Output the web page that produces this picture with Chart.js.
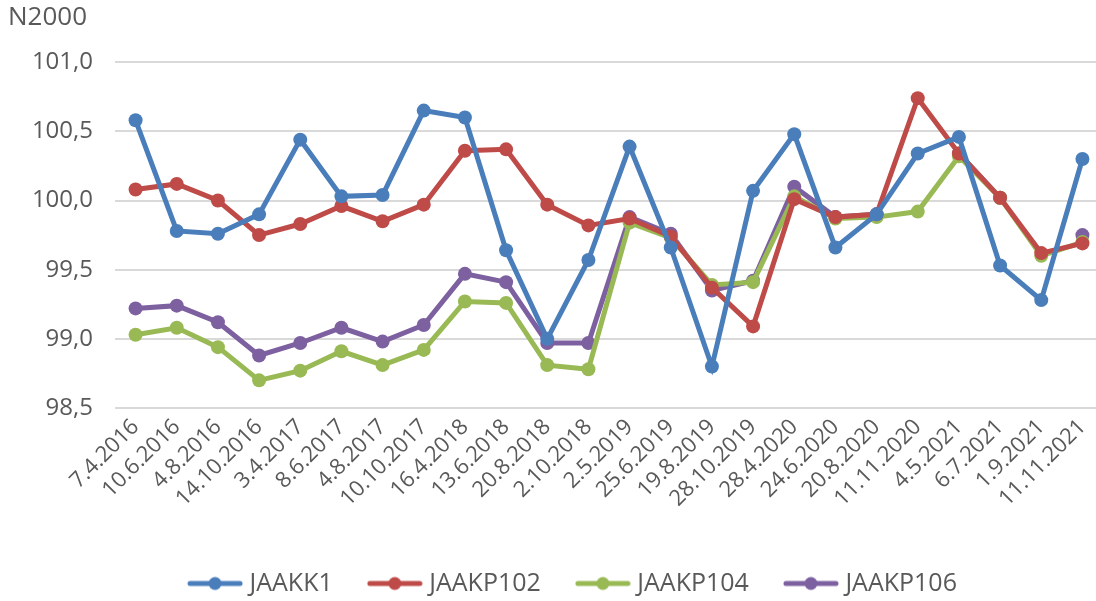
<!DOCTYPE html>
<html>
<head>
<meta charset="utf-8">
<script src="https://cdn.jsdelivr.net/npm/chart.js@4.4.1/dist/chart.umd.min.js"></script>
<style>
  html, body { margin: 0; padding: 0; background: #fff; overflow: hidden; }
  #wrap { width: 1110px; height: 601px; position: relative; }
</style>
</head>
<body>
<div id="wrap"><canvas id="chart"></canvas></div>
<script>
const labels = [
  "7.4.2016", "10.6.2016", "4.8.2016", "14.10.2016", "3.4.2017", "8.6.2017",
  "4.8.2017", "10.10.2017", "16.4.2018", "13.6.2018", "20.8.2018", "2.10.2018",
  "2.5.2019", "25.6.2019", "19.8.2019", "28.10.2019", "28.4.2020", "24.6.2020",
  "20.8.2020", "11.11.2020", "4.5.2021", "6.7.2021", "1.9.2021", "11.11.2021"
];

const jaakk1 = [100.58, 99.78, 99.76, 99.90, 100.44, 100.03, 100.04, 100.65, 100.60, 99.64, 99.00, 99.57,
  100.39, 99.66, 98.80, 100.07, 100.48, 99.66, 99.90, 100.34, 100.46, 99.53, 99.28, 100.30];
const jaakp102 = [100.08, 100.12, 100.00, 99.75, 99.83, 99.96, 99.85, 99.97, 100.36, 100.37, 99.97, 99.82,
  99.87, 99.74, 99.37, 99.09, 100.01, 99.88, 99.90, 100.74, 100.34, 100.02, 99.62, 99.69];
const jaakp104 = [99.03, 99.08, 98.94, 98.70, 98.77, 98.91, 98.81, 98.92, 99.27, 99.26, 98.81, 98.78,
  99.84, 99.73, 99.39, 99.41, 100.03, 99.87, 99.88, 99.92, 100.32, 100.02, 99.60, 99.70];
const jaakp106 = [99.22, 99.24, 99.12, 98.88, 98.97, 99.08, 98.98, 99.10, 99.47, 99.41, 98.97, 98.97,
  99.88, 99.76, 99.35, 99.42, 100.10, 99.88, 99.90, null, 100.34, 100.02, null, 99.75];

const yTicks = [98.5, 99.0, 99.5, 100.0, 100.5, 101.0];

const textColor = "#595959";
const fontFamily = "'Open Sans', sans-serif";

// small line + dot marker for the legend, like in Excel
function legendMarker(color) {
  const c = document.createElement("canvas");
  c.width = 56;
  c.height = 16;
  const ctx = c.getContext("2d");
  ctx.strokeStyle = color;
  ctx.lineWidth = 5;
  ctx.lineCap = "round";
  ctx.beginPath();
  ctx.moveTo(3, 8);
  ctx.lineTo(53, 8);
  ctx.stroke();
  ctx.fillStyle = color;
  ctx.beginPath();
  ctx.arc(28, 8, 6.5, 0, Math.PI * 2);
  ctx.fill();
  return c;
}

function series(label, data, color) {
  return {
    label: label,
    data: data,
    borderColor: color,
    backgroundColor: color,
    borderWidth: 5,
    pointRadius: 7,
    pointHoverRadius: 7,
    pointBorderWidth: 0,
    tension: 0,
    spanGaps: false,
    marker: legendMarker(color)
  };
}

// nudge the legend to where Excel put it (centred under the plot area)
const legendShift = {
  id: "legendShift",
  afterLayout(chart) {
    const lg = chart.legend;
    lg.left += 16;
    lg.right += 16;
    lg.top += 9;
    lg.bottom += 9;
  }
};

new Chart(document.getElementById("chart"), {
  type: "line",
  data: {
    labels: labels,
    datasets: [
      series("JAAKK1", jaakk1, "#4A7EBB"),
      series("JAAKP102", jaakp102, "#BE4B48"),
      series("JAAKP104", jaakp104, "#98B954"),
      series("JAAKP106", jaakp106, "#7D60A0")
    ]
  },
  plugins: [legendShift],
  options: {
    responsive: true,
    maintainAspectRatio: false,
    animation: false,
    events: [],
    layout: { padding: { left: 8, right: 0, top: 0, bottom: 4 } },
    scales: {
      x: {
        offset: true,
        grid: { display: false, drawTicks: false },
        border: { display: false },
        ticks: {
          color: textColor,
          font: { family: fontFamily, size: 22 },
          minRotation: 45,
          maxRotation: 45,
          autoSkip: false,
          padding: 6
        },
        afterFit: (scale) => { scale.height = 114; }
      },
      y: {
        min: 98.5,
        max: 101,
        afterBuildTicks: (scale) => { scale.ticks = yTicks.map((v) => ({ value: v })); },
        grid: { color: "#D9D9D9", lineWidth: 2, drawTicks: false },
        border: { display: false },
        ticks: {
          color: textColor,
          font: { family: fontFamily, size: 24 },
          padding: 22,
          callback: (v) => v.toFixed(1).replace(".", ",")
        },
        afterFit: (scale) => { scale.width = 107; }
      }
    },
    plugins: {
      tooltip: { enabled: false },
      title: {
        display: true,
        text: "N2000",
        align: "start",
        color: textColor,
        font: { family: fontFamily, size: 26, weight: "normal" },
        padding: { top: 2, bottom: 29 }
      },
      legend: {
        position: "bottom",
        labels: {
          color: textColor,
          font: { family: fontFamily, size: 25 },
          usePointStyle: true,
          pointStyleWidth: 44,
          padding: 40,
          generateLabels: (chart) => chart.data.datasets.map((ds, i) => ({
            text: ds.label,
            fillStyle: ds.borderColor,
            strokeStyle: ds.borderColor,
            pointStyle: ds.marker,
            fontColor: textColor,
            lineWidth: 0,
            hidden: false,
            datasetIndex: i
          }))
        }
      }
    }
  }
});
</script>
</body>
</html>
